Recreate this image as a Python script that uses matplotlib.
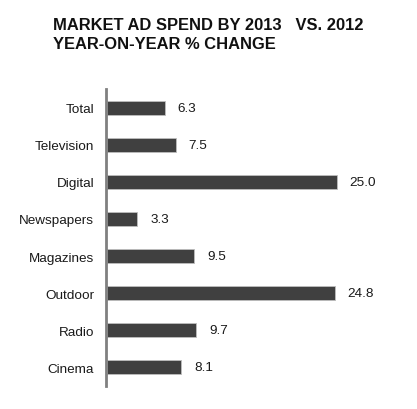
import matplotlib
matplotlib.use("Agg")
import matplotlib.pyplot as plt

categories = ["Total", "Television", "Digital", "Newspapers", "Magazines", "Outdoor", "Radio", "Cinema"]
values = [6.3, 7.5, 25.0, 3.3, 9.5, 24.8, 9.7, 8.1]
value_labels = ["6.3", "7.5", "25.0", "3.3", "9.5", "24.8", "9.7", "8.1"]
title_lines = ["MARKET AD SPEND BY 2013   VS. 2012", "YEAR-ON-YEAR % CHANGE"]

plt.rcParams['font.family'] = ['Liberation Sans', 'DejaVu Sans']

W, H = 417, 410
fig = plt.figure(figsize=(W / 100, H / 100), dpi=100)
ax = fig.add_axes([106 / W, (H - 387) / H, (400 - 106) / W, (387 - 90) / H])

ypos = list(range(len(categories)))
ax.barh(ypos, values, height=0.38, color="#404040", edgecolor="#bdbdbd", linewidth=0.6, left=0.1)
ax.set_ylim(len(categories) - 0.5, -0.5)
ax.set_xlim(0, 32)

for y, v, t in zip(ypos, values, value_labels):
    ax.annotate(t, xy=(v + 0.1, y), xytext=(13 * 0.72, 0), textcoords="offset points",
                va="center", ha="left", fontsize=9.7, color="#1a1a1a")

ax.set_yticks(ypos)
ax.set_yticklabels(categories, fontsize=9.7, color="#1a1a1a")
ax.tick_params(axis="y", length=0, pad=8.5)
ax.set_xticks([])
for s in ["top", "right", "bottom"]:
    ax.spines[s].set_visible(False)
ax.spines["left"].set_color("#808080")
ax.spines["left"].set_linewidth(2)

fig.text(53 / W, 1 - 30 / H, title_lines[0], fontsize=11.9, fontweight="bold", color="#111111",
         ha="left", va="baseline")
fig.text(53 / W, 1 - 49 / H, title_lines[1], fontsize=11.9, fontweight="bold", color="#111111",
         ha="left", va="baseline")

fig.savefig("out.png", dpi=100, facecolor="white")
